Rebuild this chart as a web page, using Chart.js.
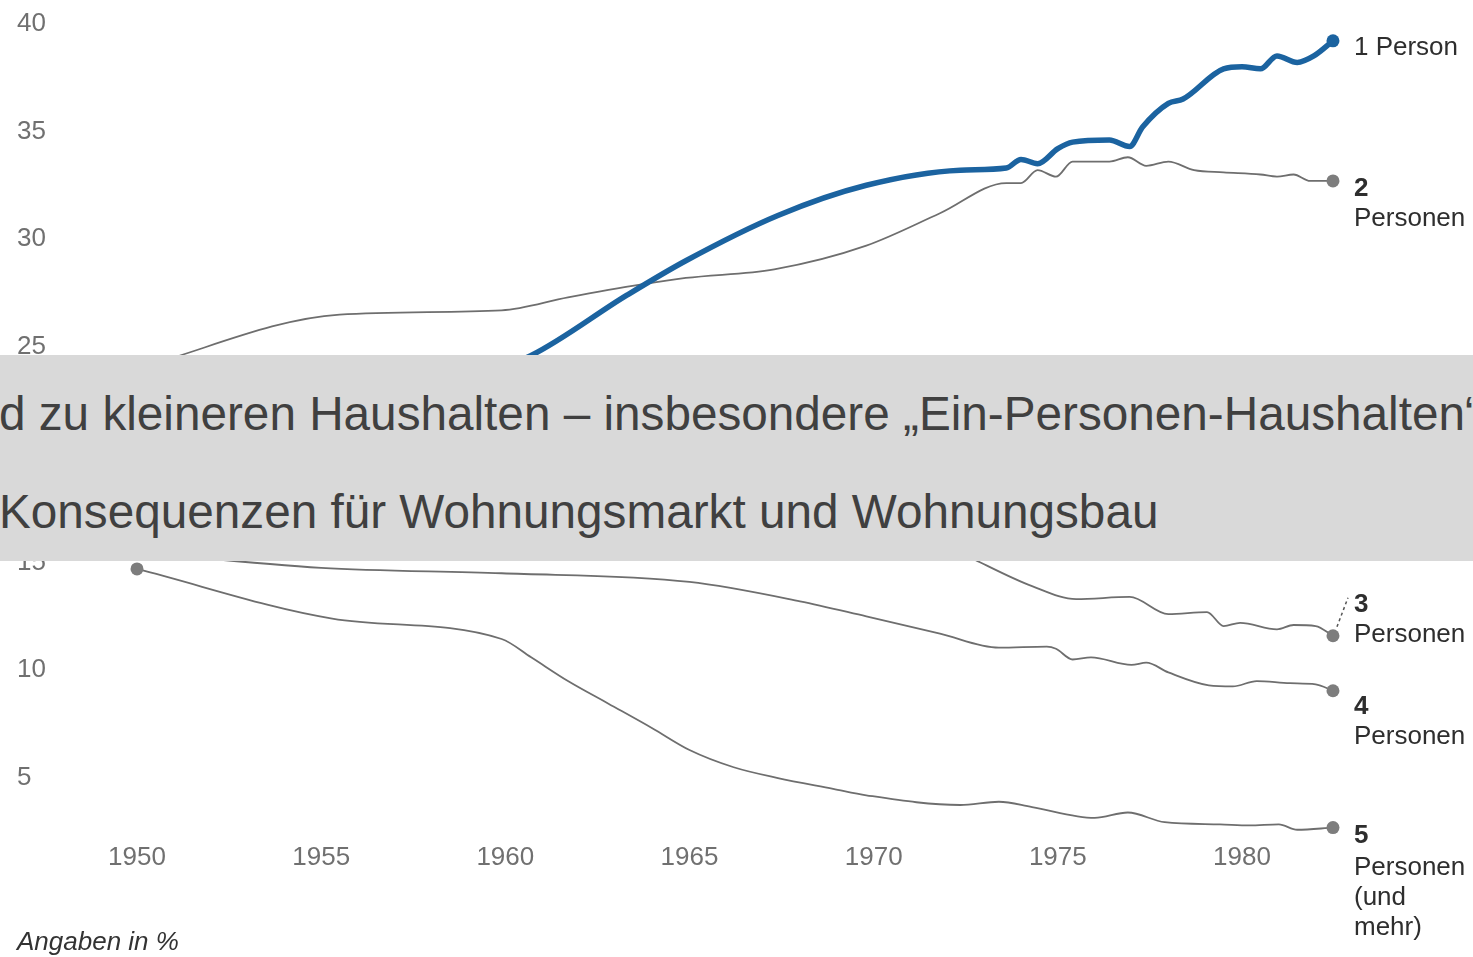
<!DOCTYPE html>
<html>
<head>
<meta charset="utf-8">
<script src="https://cdn.jsdelivr.net/npm/chart.js@4.4.1/dist/chart.umd.min.js"></script>
<style>
  html, body { margin: 0; padding: 0; background: #ffffff; }
  #wrap { position: relative; width: 1473px; height: 957px; overflow: hidden; background: #ffffff; }
  #c { position: absolute; left: 0; top: 0; }
  #banner { position: absolute; left: 0; top: 355px; width: 1473px; height: 206px; background: #d9d9d9; overflow: hidden; }
  .bl { position: absolute; left: -1px; white-space: nowrap; font-family: "Liberation Sans", Arial, sans-serif;
        font-size: 47.7px; line-height: 47.7px; color: #404040; }
  #note { position: absolute; left: 17px; top: 928px; white-space: nowrap; font-family: "Liberation Sans", Arial, sans-serif;
          font-size: 26px; line-height: 26px; font-style: italic; color: #333333; }
</style>
</head>
<body>
<div id="wrap">
  <canvas id="c" width="1473" height="957"></canvas>
  <div id="banner">
    <div class="bl" style="top:34.6px">d zu kleineren Haushalten – insbesondere „Ein-Personen-Haushalten“</div>
    <div class="bl" style="top:132.6px">Konsequenzen für Wohnungsmarkt und Wohnungsbau</div>
  </div>
  <div id="note">Angaben in %</div>
</div>
<script>
// ---- data ----
const xTickYears = [1950, 1955, 1960, 1965, 1970, 1975, 1980];
const yTickValues = [5, 10, 15, 20, 25, 30, 35, 40];

const onePersonYears  = [1950, 1955, 1958, 1960.7, 1963.3, 1964.9, 1967.4, 1969.8, 1972.35, 1973.6, 1974.0, 1974.45, 1975.0, 1975.4, 1976.4, 1976.95, 1977.3, 1978.0, 1978.4, 1979.5, 1980.0, 1980.5, 1980.95, 1981.5, 1981.95, 1982.47];
const onePersonValues = [20.5, 21.8, 22.9, 24.6, 27.4, 29.0, 31.1, 32.5, 33.2, 33.3, 33.7, 33.5, 34.2, 34.5, 34.6, 34.3, 35.2, 36.3, 36.5, 37.9, 38.0, 37.9, 38.5, 38.2, 38.5, 39.2];

const twoPersonYears  = [1950, 1955.5, 1959.9, 1961.7, 1963.7, 1964.9, 1967.3, 1969.8, 1971.8, 1973.6, 1974.0, 1974.45, 1974.95, 1975.4, 1976.4, 1976.9, 1977.4, 1978.0, 1978.7, 1979.5, 1980.5, 1980.95, 1981.4, 1981.85, 1982.47];
const twoPersonValues = [24.0, 26.5, 26.7, 27.3, 27.9, 28.2, 28.6, 29.7, 31.2, 32.6, 32.6, 33.2, 32.9, 33.6, 33.6, 33.8, 33.4, 33.6, 33.2, 33.1, 33.0, 32.9, 33.0, 32.7, 32.7];

const threePersonYears  = [1950, 1955, 1960, 1965, 1968, 1970, 1972, 1972.9, 1974.3, 1975.5, 1976.95, 1978.0, 1979.05, 1979.5, 1979.95, 1980.95, 1981.4, 1982.0, 1982.47];
const threePersonValues = [21.5, 21.3, 20.8, 19.6, 18.6, 17.5, 15.8, 15.0, 13.9, 13.3, 13.4, 12.6, 12.7, 12.05, 12.2, 11.9, 12.1, 12.05, 11.6];

const fourPersonYears  = [1950, 1955, 1959.9, 1965.0, 1968.0, 1969.8, 1971.8, 1973.4, 1974.7, 1974.95, 1975.4, 1975.9, 1977.0, 1977.4, 1978.0, 1979.1, 1979.75, 1980.4, 1981.3, 1982.0, 1982.47];
const fourPersonValues = [15.5, 14.75, 14.5, 14.1, 13.2, 12.5, 11.7, 11.05, 11.1, 11.0, 10.5, 10.6, 10.25, 10.35, 9.9, 9.3, 9.25, 9.5, 9.4, 9.35, 9.05];

const fivePersonYears  = [1950, 1955.3, 1959.9, 1960.7, 1961.7, 1962.8, 1964.0, 1965.0, 1966.2, 1967.4, 1968.9, 1969.8, 1972.35, 1973.4, 1974.3, 1976.0, 1976.9, 1977.9, 1979.4, 1980.2, 1981.0, 1981.5, 1982.47];
const fivePersonValues = [14.7, 12.4, 11.45, 10.6, 9.5, 8.45, 7.3, 6.3, 5.5, 5.0, 4.5, 4.2, 3.75, 3.9, 3.65, 3.15, 3.4, 2.95, 2.85, 2.8, 2.85, 2.6, 2.7];

const seriesNumbers = ['1', '2', '3', '4', '5'];
const seriesWords = [['Person'], ['Personen'], ['Personen'], ['Personen'], ['Personen', '(und', 'mehr)']];

// ---- build ----
const FONT = '"Liberation Sans", Arial, sans-serif';
const toPts = (xs, ys) => xs.map((x, i) => ({ x: x, y: ys[i] }));
const endDots = (r) => (ctx) => (ctx.dataIndex === 0 || ctx.dataIndex === ctx.dataset.data.length - 1) ? r : 0;

const BLUE = '#1b63a0';
const GREY = '#6e6e6e';
const DOT = '#7d7d7d';

function greySet(label, xs, ys, order) {
  return {
    label, data: toPts(xs, ys), borderColor: GREY, borderWidth: 1.8,
    pointRadius: endDots(6.5), pointBackgroundColor: DOT, pointBorderColor: DOT, pointBorderWidth: 0,
    cubicInterpolationMode: 'monotone', clip: false, order
  };
}

const datasets = [
  {
    label: '1 Person', data: toPts(onePersonYears, onePersonValues), borderColor: BLUE, borderWidth: 5.5,
    pointRadius: endDots(6.5), pointBackgroundColor: BLUE, pointBorderColor: BLUE, pointBorderWidth: 0,
    cubicInterpolationMode: 'monotone', clip: false, order: 0
  },
  greySet('2 Personen', twoPersonYears, twoPersonValues, 1),
  greySet('3 Personen', threePersonYears, threePersonValues, 2),
  greySet('4 Personen', fourPersonYears, fourPersonValues, 3),
  greySet('5 Personen (und mehr)', fivePersonYears, fivePersonValues, 4)
];

// label placement relative to the end point of each series (offsets in px)
const labelLayout = [
  { numDy: 14, wordDy: [14], inline: true },
  { numDy: 15, wordDy: [45] },
  { numDy: -24, wordDy: [6], leader: true },
  { numDy: 23, wordDy: [53] },
  { numDy: 15, wordDy: [47, 77, 107] }
];

const endLabels = {
  id: 'endLabels',
  afterDatasetsDraw(chart) {
    const ctx = chart.ctx;
    const xs = chart.scales.x, ys = chart.scales.y;
    ctx.save();
    ctx.textBaseline = 'alphabetic';
    ctx.textAlign = 'left';
    chart.data.datasets.forEach((ds, i) => {
      const last = ds.data[ds.data.length - 1];
      const px = xs.getPixelForValue(last.x);
      const py = ys.getPixelForValue(last.y);
      const L = labelLayout[i];
      const tx = px + 21;
      ctx.fillStyle = '#2e2e2e';
      if (L.inline) {
        ctx.font = '26px ' + FONT;
        ctx.fillText(seriesNumbers[i] + ' ' + seriesWords[i][0], tx, py + L.numDy);
      } else {
        ctx.font = 'bold 26px ' + FONT;
        ctx.fillText(seriesNumbers[i], tx, py + L.numDy);
        ctx.font = '26px ' + FONT;
        seriesWords[i].forEach((w, k) => ctx.fillText(w, tx, py + L.wordDy[k]));
      }
      if (L.leader) {
        ctx.strokeStyle = '#555555';
        ctx.lineWidth = 1.5;
        ctx.setLineDash([3, 3]);
        ctx.beginPath();
        ctx.moveTo(px + 4, py - 9);
        ctx.lineTo(px + 15, py - 38);
        ctx.stroke();
        ctx.setLineDash([]);
      }
    });
    ctx.restore();
  }
};

new Chart(document.getElementById('c'), {
  type: 'line',
  data: { datasets },
  options: {
    responsive: false,
    maintainAspectRatio: false,
    animation: false,
    devicePixelRatio: 1,
    events: [],
    layout: { padding: { left: 17, right: 120.5, top: 20, bottom: 74.3 } },
    plugins: { legend: { display: false }, tooltip: { enabled: false }, title: { display: false } },
    scales: {
      x: {
        type: 'linear', min: 1948.5, max: 1983,
        grid: { display: false, drawTicks: false }, border: { display: false },
        afterBuildTicks: (s) => { s.ticks = xTickYears.map(v => ({ value: v })); },
        afterFit: (s) => { s.height = 40; },
        ticks: { color: '#707070', font: { family: FONT, size: 26 }, padding: 0, maxRotation: 0, autoSkip: false,
                 callback: (v) => String(v) }
      },
      y: {
        type: 'linear', min: 2, max: 40,
        grid: { display: false, drawTicks: false }, border: { display: false },
        afterBuildTicks: (s) => { s.ticks = yTickValues.map(v => ({ value: v })); },
        afterFit: (s) => { s.width = 64.75; },
        ticks: { color: '#707070', font: { family: FONT, size: 26 }, crossAlign: 'far', padding: 8, autoSkip: false,
                 callback: (v) => String(v) }
      }
    }
  },
  plugins: [endLabels]
});
</script>
</body>
</html>
